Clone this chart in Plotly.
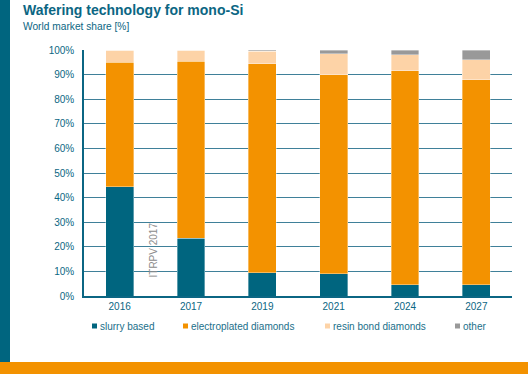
import plotly.graph_objects as go

years = ["2016", "2017", "2019", "2021", "2024", "2027"]
slurry = [44.5, 23.5, 9.5, 9.0, 4.5, 4.5]
electroplated = [50.5, 72.0, 85.0, 81.0, 87.0, 83.5]
resin = [5.0, 4.5, 5.0, 8.5, 6.5, 8.0]
other = [0.0, 0.0, 0.5, 1.5, 2.0, 4.0]
series_names = ["slurry based", "electroplated diamonds", "resin bond diamonds", "other"]
colors = ["#00657F", "#F39200", "#FDD3A7", "#999999"]
y_ticks = [0, 10, 20, 30, 40, 50, 60, 70, 80, 90, 100]
y_tick_labels = [f"{v}%" for v in y_ticks]

W, H = 528, 374
L, R, T, B = 84, 16, 50, 78
pw, ph = W - L - R, H - T - B

def px(x):
    return (x - L) / pw

def py(y):
    return (H - B - y) / ph

teal = "#0B6683"
fig = go.Figure()
for name, vals, c in zip(series_names, [slurry, electroplated, resin, other], colors):
    fig.add_trace(go.Bar(x=years, y=vals, name=name,
                         marker=dict(color=c, line=dict(width=0.6, color="rgba(255,255,255,0.6)")),
                         showlegend=False))

# legend (manual, one row)
legend_x = [92, 183, 325, 455]
legend_y = 326
shapes = [
    dict(type="rect", xref="paper", yref="paper", x0=px(0), x1=px(10), y0=py(362), y1=py(0),
         fillcolor="#00657F", line=dict(width=0), layer="above"),
    dict(type="rect", xref="paper", yref="paper", x0=px(0), x1=px(W), y0=py(H), y1=py(362),
         fillcolor="#F39200", line=dict(width=0), layer="above"),
]
annotations = [
    dict(text="<b>Wafering technology for mono-Si</b>", xref="paper", yref="paper",
         x=px(21), y=py(10.5), xanchor="left", yanchor="middle", showarrow=False,
         font=dict(size=14, color=teal)),
    dict(text="World market share [%]", xref="paper", yref="paper",
         x=px(21), y=py(27), xanchor="left", yanchor="middle", showarrow=False,
         font=dict(size=10.2, color=teal)),
    dict(text="ITRPV 2017", xref="paper", yref="paper", x=px(152.5), y=py(250),
         xanchor="center", yanchor="middle", showarrow=False, textangle=-90,
         font=dict(size=10, color="#8C8C8C")),
]
for lx, name, c in zip(legend_x, series_names, colors):
    shapes.append(dict(type="rect", xref="paper", yref="paper", x0=px(lx), x1=px(lx + 5),
                       y0=py(legend_y + 2.5), y1=py(legend_y - 2.5), fillcolor=c, line=dict(width=0)))
    annotations.append(dict(text=name, xref="paper", yref="paper", x=px(lx + 6), y=py(legend_y),
                            xanchor="left", yanchor="middle", showarrow=False,
                            font=dict(size=10, color="#1A6F8A")))

fig.update_layout(
    width=W, height=H, barmode="stack", bargap=0.61,
    margin=dict(l=L, r=R, t=T, b=B, autoexpand=False),
    plot_bgcolor="white", paper_bgcolor="white",
    font=dict(family="Liberation Sans, Arial, sans-serif", size=10, color=teal),
    showlegend=False,
    xaxis=dict(type="category", showline=True, linecolor=teal, linewidth=1.5, automargin=False,
               showgrid=False, ticks="", tickfont=dict(size=10, color=teal)),
    yaxis=dict(range=[0, 100], tickvals=y_ticks, ticktext=y_tick_labels, showline=True, automargin=False,
               linecolor=teal, linewidth=1.5, showgrid=True, gridcolor="#3F8099", gridwidth=1,
               ticks="", ticklabelstandoff=6, tickfont=dict(size=10, color=teal), zeroline=False),
    shapes=shapes,
    annotations=annotations,
)
fig.write_html("out.html", config={"displayModeBar": False},
               post_script="document.body.style.margin='0px';")
